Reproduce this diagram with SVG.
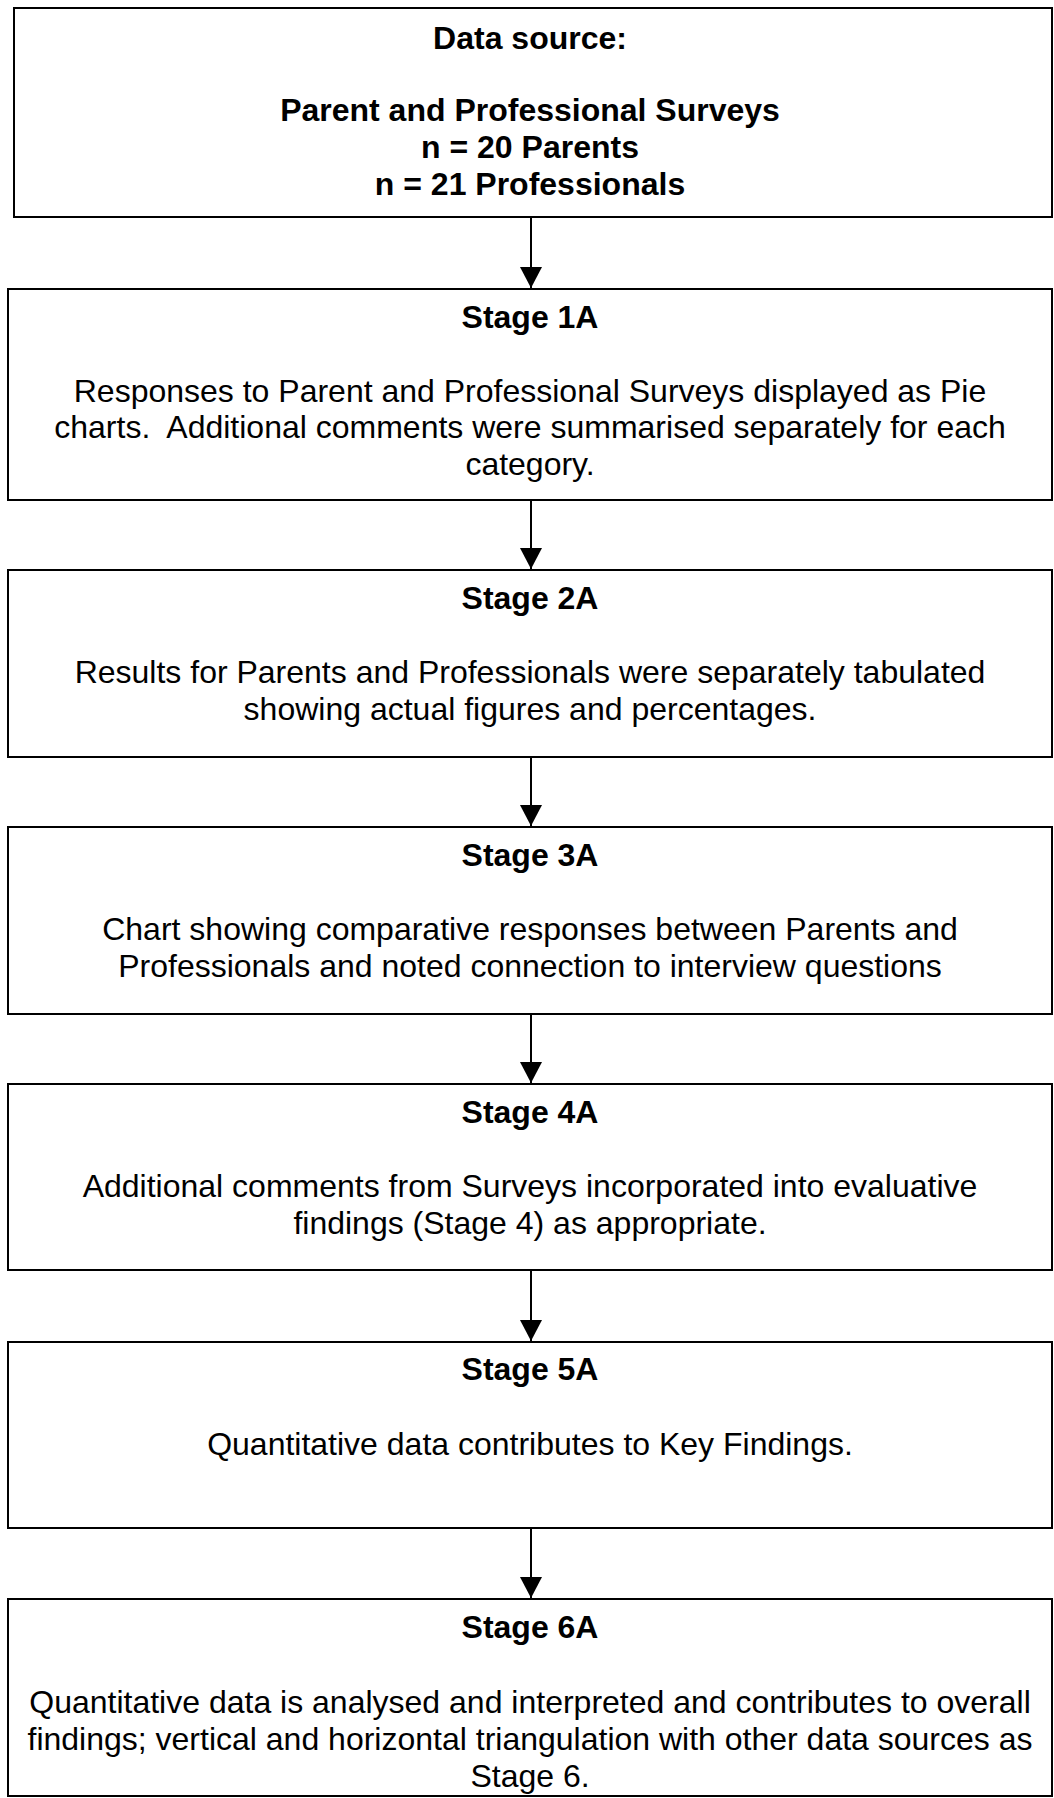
<svg xmlns="http://www.w3.org/2000/svg" width="1054" height="1798" viewBox="0 0 1054 1798">
<defs>
<style>
.box{fill:#fff;stroke:#000;stroke-width:2}
.t{font-family:"Liberation Sans",Arial,sans-serif;font-size:32px;fill:#000;text-anchor:middle}
.b{font-weight:bold}
.c{stroke:#000;stroke-width:2;fill:none}
</style>
<marker id="ah" markerUnits="userSpaceOnUse" markerWidth="22" markerHeight="22" viewBox="0 0 22 22" refX="21" refY="11" orient="auto">
<path d="M0,0 L21,11 L0,22 Z" fill="#000"/>
</marker>
</defs>
<rect width="1054" height="1798" fill="#fff"/>
<g id="connectors">
<line class="c" x1="531" y1="218" x2="531" y2="288" marker-end="url(#ah)"/>
<line class="c" x1="531" y1="501" x2="531" y2="569" marker-end="url(#ah)"/>
<line class="c" x1="531" y1="758" x2="531" y2="826" marker-end="url(#ah)"/>
<line class="c" x1="531" y1="1015" x2="531" y2="1083" marker-end="url(#ah)"/>
<line class="c" x1="531" y1="1271" x2="531" y2="1341" marker-end="url(#ah)"/>
<line class="c" x1="531" y1="1529" x2="531" y2="1598" marker-end="url(#ah)"/>
</g>
<g id="source">
<rect class="box" x="14" y="8" width="1038" height="209"/>
<text class="t b" x="530" y="49">Data source:</text>
<text class="t b" x="530" y="121">Parent and Professional Surveys</text>
<text class="t b" x="530" y="158">n = 20 Parents</text>
<text class="t b" x="530" y="195">n = 21 Professionals</text>
</g>
<g id="stage1a">
<rect class="box" x="8" y="289" width="1044" height="211"/>
<text class="t b" x="530" y="328">Stage 1A</text>
<text class="t" x="530" y="402">Responses to Parent and Professional Surveys displayed as Pie</text>
<text class="t" x="530" y="438" xml:space="preserve">charts.  Additional comments were summarised separately for each</text>
<text class="t" x="530" y="475">category.</text>
</g>
<g id="stage2a">
<rect class="box" x="8" y="570" width="1044" height="187"/>
<text class="t b" x="530" y="609">Stage 2A</text>
<text class="t" x="530" y="683">Results for Parents and Professionals were separately tabulated</text>
<text class="t" x="530" y="720">showing actual figures and percentages.</text>
</g>
<g id="stage3a">
<rect class="box" x="8" y="827" width="1044" height="187"/>
<text class="t b" x="530" y="866">Stage 3A</text>
<text class="t" x="530" y="940">Chart showing comparative responses between Parents and</text>
<text class="t" x="530" y="977">Professionals and noted connection to interview questions</text>
</g>
<g id="stage4a">
<rect class="box" x="8" y="1084" width="1044" height="186"/>
<text class="t b" x="530" y="1123">Stage 4A</text>
<text class="t" x="530" y="1197">Additional comments from Surveys incorporated into evaluative</text>
<text class="t" x="530" y="1234">findings (Stage 4) as appropriate.</text>
</g>
<g id="stage5a">
<rect class="box" x="8" y="1342" width="1044" height="186"/>
<text class="t b" x="530" y="1380">Stage 5A</text>
<text class="t" x="530" y="1455">Quantitative data contributes to Key Findings.</text>
</g>
<g id="stage6a">
<rect class="box" x="8" y="1599" width="1044" height="197"/>
<text class="t b" x="530" y="1638">Stage 6A</text>
<text class="t" x="530" y="1713">Quantitative data is analysed and interpreted and contributes to overall</text>
<text class="t" x="530" y="1750">findings; vertical and horizontal triangulation with other data sources as</text>
<text class="t" x="530" y="1787">Stage 6.</text>
</g>
</svg>
